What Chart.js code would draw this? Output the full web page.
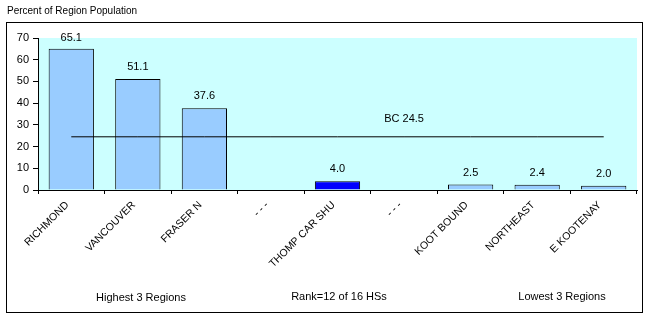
<!DOCTYPE html>
<html>
<head>
<meta charset="utf-8">
<script src="https://cdn.jsdelivr.net/npm/chart.js@4"></script>
<style>
  html, body { margin: 0; padding: 0; background: #fff; }
  #wrap { width: 669px; height: 314px; position: relative; }
</style>
</head>
<body>
<div id="wrap"><canvas id="chart" width="669" height="314"></canvas></div>
<script>
// chart data
const regions = ["RICHMOND", "VANCOUVER", "FRASER N", "- - -", "THOMP CAR SHU", "- - -", "KOOT BOUND", "NORTHEAST", "E KOOTENAY"];
const percents = [65.1, 51.1, 37.6, null, 4.0, null, 2.5, 2.4, 2.0];
const barColors = ["#99ccff", "#99ccff", "#99ccff", "#99ccff", "#0000ff", "#99ccff", "#99ccff", "#99ccff", "#99ccff"];
const bcValue = 24.5;
const bcLine = regions.map(() => bcValue);
const yTicks = [0, 10, 20, 30, 40, 50, 60, 70];
const groupNotes = ["Highest 3 Regions", "Rank=12 of 16 HSs", "Lowest 3 Regions"];

const FONT = "Arial, 'Liberation Sans', sans-serif";

// cyan plot background + outer frame + extra texts
const decor = {
  id: "decor",
  beforeDraw(chart) {
    const ctx = chart.ctx;
    const a = chart.chartArea;
    ctx.save();
    ctx.fillStyle = "#ccffff";
    ctx.fillRect(a.left, a.top, a.right - a.left, a.bottom - a.top);
    // outer frame
    ctx.strokeStyle = "#000";
    ctx.lineWidth = 1;
    ctx.strokeRect(6.5, 22.5, 636, 290);
    // title
    ctx.fillStyle = "#000";
    ctx.font = "10px " + FONT;
    ctx.textAlign = "left";
    ctx.textBaseline = "middle";
    ctx.fillText("Percent of Region Population", 7, 11);
    ctx.restore();
  },
  afterDraw(chart) {
    const ctx = chart.ctx;
    const x = chart.scales.x;
    const y = chart.scales.y;
    ctx.save();
    ctx.fillStyle = "#000";
    ctx.font = "11px " + FONT;
    ctx.textAlign = "center";
    ctx.textBaseline = "middle";
    // value labels above bars
    const meta = chart.getDatasetMeta(0);
    meta.data.forEach((bar, i) => {
      if (percents[i] == null) return;
      ctx.fillText(percents[i].toFixed(1), bar.x, Math.max(bar.y - 12, 38));
    });
    // BC label
    ctx.fillText("BC " + bcValue, x.getPixelForValue(5), y.getPixelForValue(bcValue) - 18);
    // group notes under the axis
    ctx.fillText(groupNotes[0], 141, 298);
    ctx.fillText(groupNotes[1], 339, 297);
    ctx.fillText(groupNotes[2], 562, 297);
    ctx.restore();
  }
};

new Chart(document.getElementById("chart"), {
  data: {
    labels: regions,
    datasets: [
      {
        type: "bar",
        data: percents,
        backgroundColor: barColors,
        borderColor: "#000",
        borderWidth: 1,
        categoryPercentage: 0.68,
        barPercentage: 1,
        order: 2
      },
      {
        type: "line",
        data: bcLine,
        borderColor: "#000",
        borderWidth: 1,
        pointRadius: 0,
        fill: false,
        order: 1
      }
    ]
  },
  options: {
    responsive: false,
    animation: false,
    layout: { padding: { left: 0, top: 38, right: 32, bottom: 0 } },
    plugins: { legend: { display: false }, tooltip: { enabled: false } },
    scales: {
      x: {
        grid: { display: true, drawOnChartArea: false, color: "#000", tickLength: 4 },
        border: { display: true, color: "#000" },
        ticks: {
          color: "#000",
          font: { family: FONT, size: 10.5 },
          minRotation: 45,
          maxRotation: 45,
          autoSkip: false,
          padding: 5,
          labelOffset: -4
        },
        afterFit(s) { s.height = 124; }
      },
      y: {
        min: 0,
        max: 70,
        afterBuildTicks(s) { s.ticks = yTicks.map(v => ({ value: v })); },
        grid: { display: true, drawOnChartArea: false, color: "#000", tickLength: 5 },
        border: { display: true, color: "#000" },
        ticks: { color: "#000", font: { family: FONT, size: 11 }, padding: 4 },
        afterFit(s) { s.width = 38; }
      }
    }
  },
  plugins: [decor]
});
</script>
</body>
</html>
